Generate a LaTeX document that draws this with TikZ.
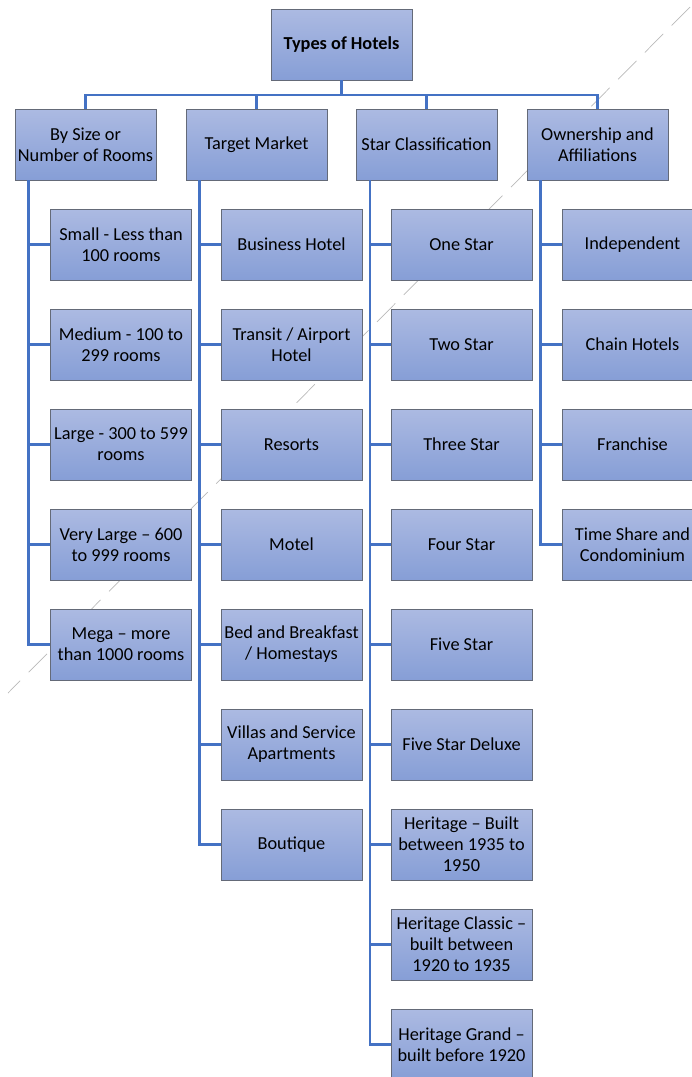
\documentclass[tikz,border=0pt]{standalone}
\usepackage{fontspec}
\setmainfont{Carlito}
\usepackage{xcolor}
\usepackage{tikz}
\usetikzlibrary{positioning}
\definecolor{boxtop}{RGB}{172,186,226}
\definecolor{boxbot}{RGB}{134,158,214}
\definecolor{boxline}{RGB}{100,106,120}
\definecolor{linkblue}{RGB}{68,114,196}

\begin{document}
\begin{tikzpicture}[x=1pt, y=-1pt, every node/.style={inner sep=1.5pt},
  cat/.style={rectangle, draw=boxline, line width=0.8pt, top color=boxtop, bottom color=boxbot,
    minimum width=141pt, minimum height=71pt, align=center, font=\fontsize{18.3}{21}\selectfont},
  link/.style={draw=linkblue, line width=2.4pt}]
  \clip (0,0) rectangle (692,1077);
  % faint diagonal stroke behind the chart
  \draw[gray!55, line width=0.7pt, dash pattern=on 26pt off 12pt] (690,7) -- (8,693);

  \node[cat, font=\fontsize{18.3}{21}\selectfont\bfseries] (hotels) at (341.5,44.5) {Types of Hotels};
  \node[cat] (size) at (85.5,144.5) {By Size or\\Number of Rooms};
  \node[cat] (market) at (256.5,144.5) {Target Market};
  \node[cat] (star) at (426.5,144.5) {Star Classification};
  \node[cat] (owner) at (597.5,144.5) {Ownership and\\Affiliations};
  \coordinate (bus) at (341.5,95);
  \foreach \c in {size,market,star,owner}
    \draw[link] (hotels.south) -- (bus) -| (\c.north);

  % spines
  \coordinate (size-sp) at ([xshift=14pt]size.south west);
  \coordinate (market-sp) at ([xshift=14pt]market.south west);
  \coordinate (star-sp) at ([xshift=14.5pt]star.south west);
  \coordinate (owner-sp) at ([xshift=14pt]owner.south west);

  \foreach \txt [count=\i] in {{Small - Less than\\100 rooms}, {Medium - 100 to\\299 rooms},
      {Large - 300 to 599\\rooms}, {Very Large – 600\\to 999 rooms}, {Mega – more\\than 1000 rooms}} {
    \node[cat] (size\i) at (121,144.5+100*\i) {\txt};
    \draw[link] (size-sp) |- (size\i.west);
  }
  \foreach \txt [count=\i] in {{Business Hotel}, {Transit / Airport\\Hotel}, {Resorts}, {Motel},
      {Bed and Breakfast\\/ Homestays}, {Villas and Service\\Apartments}, {Boutique}} {
    \node[cat] (market\i) at (291.5,144.5+100*\i) {\txt};
    \draw[link] (market-sp) |- (market\i.west);
  }
  \foreach \txt [count=\i] in {{One Star}, {Two Star}, {Three Star}, {Four Star}, {Five Star},
      {Five Star Deluxe}, {Heritage – Built\\between 1935 to\\1950},
      {Heritage Classic –\\built between\\1920 to 1935}, {Heritage Grand –\\built before 1920}} {
    \node[cat] (star\i) at (461.5,144.5+100*\i) {\txt};
    \draw[link] (star-sp) |- (star\i.west);
  }
  \foreach \txt [count=\i] in {{Independent}, {Chain Hotels}, {Franchise}, {Time Share and\\Condominium}} {
    \node[cat] (owner\i) at (632.5,144.5+100*\i) {\txt};
    \draw[link] (owner-sp) |- (owner\i.west);
  }
\end{tikzpicture}
\end{document}
